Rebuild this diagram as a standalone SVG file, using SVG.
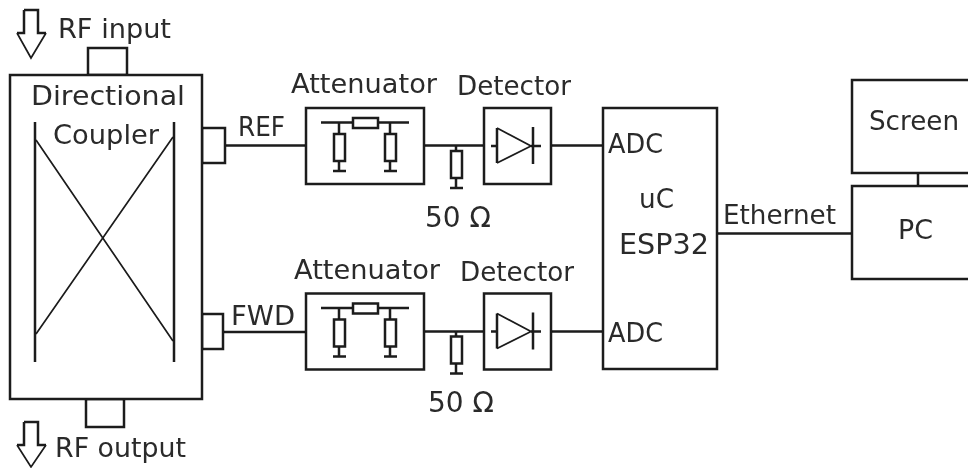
<svg xmlns="http://www.w3.org/2000/svg" xmlns:xlink="http://www.w3.org/1999/xlink" width="968" height="468" viewBox="0 0 968 468">
<style>
.s{fill:none;stroke:#1a1a1a;stroke-width:2.500}
.d{fill:none;stroke:#1a1a1a;stroke-width:1.700}
.w{fill:#fff;stroke:#1a1a1a;stroke-width:2.500}
.t{font-family:"DejaVu Sans","Liberation Sans",sans-serif;font-size:26.500px;fill:#2a2a2a}
.b{font-size:28px}
</style>
<defs>
<filter id="soft" filterUnits="userSpaceOnUse" x="0" y="0" width="968" height="468"><feGaussianBlur stdDeviation="0.450"/></filter>
<g id="att">
<rect class="w" x="306" y="108" width="118" height="76"/>
<path class="s" d="M321 122.500H409M339 122.500V134M390 122.500V134M339 161V171M390 161V171M333 171H346M384 171H397"/>
<rect class="w" x="353" y="118" width="25" height="10"/>
<rect class="w" x="334" y="134" width="11" height="27"/>
<rect class="w" x="385" y="134" width="11" height="27"/>
</g>
<g id="det">
<rect class="w" x="484" y="108" width="67" height="76"/>
<path class="s" d="M491 146H497M497 128V163M533 127V164M531 146H541"/>
<path class="d" d="M497 128L531 146L497 163"/>
</g>
<g id="shunt">
<path class="s" d="M456 146V151M456 178V188M450 188H463"/>
<rect class="w" x="451" y="151" width="11" height="27"/>
</g>
</defs>
<rect width="968" height="468" fill="#fff"/>
<g filter="url(#soft)">
<g id="connectors">
<path class="s" d="M225 145.500H306M424 145.500H484M551 145.500H603M223 332H306M424 331.500H484M551 331.500H603M717 233.500H852M918 173V186"/>
</g>
<g id="rf-input"><path class="s" d="M24 10H38V33H46M17 33H24V10"/><path class="d" d="M46 33L31 58L17 33"/><text class="t" x="58" y="38" textLength="113" lengthAdjust="spacingAndGlyphs">RF input</text></g>
<g id="rf-output"><path class="s" d="M24 422H38V445H46M17 445H24V422"/><path class="d" d="M46 445L31 467L17 445"/><text class="t" x="55" y="457" textLength="131" lengthAdjust="spacingAndGlyphs">RF output</text></g>
<g id="coupler">
<rect class="s" x="88" y="48" width="39" height="27"/>
<rect class="s" x="86" y="399" width="38" height="28"/>
<rect class="s" x="202" y="128" width="23" height="35"/>
<rect class="s" x="202" y="314" width="21" height="35"/>
<rect class="w" x="10" y="75" width="192" height="324"/>
<path class="s" d="M35 122V362M174 122V362"/>
<path class="d" d="M36 140L173 341M173 137L36 334"/>
<text class="t" x="31" y="105" textLength="154" lengthAdjust="spacingAndGlyphs">Directional</text>
<text class="t" x="53" y="144" textLength="106" lengthAdjust="spacingAndGlyphs">Coupler</text>
</g>
<text class="t" x="238" y="136" textLength="47" lengthAdjust="spacingAndGlyphs">REF</text>
<text class="t" x="231" y="325" textLength="64" lengthAdjust="spacingAndGlyphs">FWD</text>
<g id="attenuator-ref"><text class="t" x="291" y="93" textLength="146" lengthAdjust="spacingAndGlyphs">Attenuator</text><use xlink:href="#att" href="#att"/></g>
<g id="detector-ref"><text class="t" x="457" y="95" textLength="114" lengthAdjust="spacingAndGlyphs">Detector</text><use xlink:href="#det" href="#det"/></g>
<g id="load-ref"><use xlink:href="#shunt" href="#shunt"/><text class="t b" x="425" y="227">50 Ω</text></g>
<g id="attenuator-fwd"><text class="t" x="294" y="279" textLength="146" lengthAdjust="spacingAndGlyphs">Attenuator</text><use xlink:href="#att" href="#att" y="185.500"/></g>
<g id="detector-fwd"><text class="t" x="460" y="281" textLength="114" lengthAdjust="spacingAndGlyphs">Detector</text><use xlink:href="#det" href="#det" y="185.500"/></g>
<g id="load-fwd"><use xlink:href="#shunt" href="#shunt" y="185.500"/><text class="t b" x="428" y="412">50 Ω</text></g>
<g id="uc">
<rect class="w" x="603" y="108" width="114" height="261"/>
<text class="t" x="608" y="153" textLength="55" lengthAdjust="spacingAndGlyphs">ADC</text>
<text class="t" x="639" y="208" textLength="35" lengthAdjust="spacingAndGlyphs">uC</text>
<text class="t b" x="619" y="254" textLength="90" lengthAdjust="spacingAndGlyphs">ESP32</text>
<text class="t" x="608" y="342" textLength="55" lengthAdjust="spacingAndGlyphs">ADC</text>
</g>
<text class="t" x="723" y="224" textLength="113" lengthAdjust="spacingAndGlyphs">Ethernet</text>
<g id="screen"><rect class="w" x="852" y="80" width="130" height="93"/><text class="t" x="869" y="130" textLength="90" lengthAdjust="spacingAndGlyphs">Screen</text></g>
<g id="pc"><rect class="w" x="852" y="186" width="130" height="93"/><text class="t" x="898" y="239" textLength="35" lengthAdjust="spacingAndGlyphs">PC</text></g>
</g>
</svg>
